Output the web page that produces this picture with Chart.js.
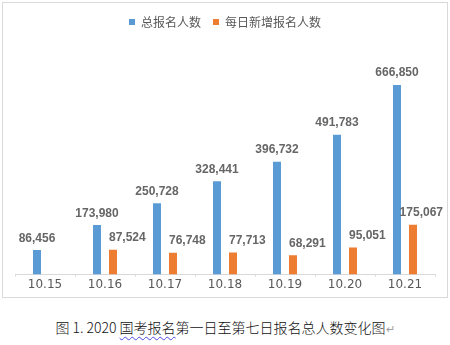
<!DOCTYPE html>
<html>
<head>
<meta charset="utf-8">
<script src="https://cdn.jsdelivr.net/npm/chart.js@4.4.0/dist/chart.umd.min.js"></script>
<style>
  html, body { margin: 0; padding: 0; background: #fff; width: 450px; height: 345px; overflow: hidden; }
  #frame { position: absolute; left: 2px; top: 2px; width: 444px; height: 294px; border: 1px solid #d9d9d9; }
  #wrap { position: absolute; left: 0; top: 0; width: 450px; height: 300px; }
  #caption { position: absolute; left: 0; top: 317px; width: 450px; text-align: center;
    font-family: "Noto Sans CJK SC", "Noto Sans", sans-serif; font-weight: 300; font-size: 14px; line-height: 20px; color: #111; }
  #caption .wavy { text-decoration: underline wavy #4a4ae0; text-decoration-thickness: 1px; text-underline-offset: 3px; }
  #caption .pm { color: #a0a0a0; font-size: 11px; font-family: "DejaVu Sans", sans-serif; }
</style>
</head>
<body>
<div id="frame"></div>
<div id="wrap"><canvas id="c" width="450" height="300"></canvas></div>
<div id="caption">图 1. 2020 <span class="wavy">国考报名</span>第一日至第七日报名总人数变化图<span class="pm">↵</span></div>
<script>
const categories = ['10.15', '10.16', '10.17', '10.18', '10.19', '10.20', '10.21'];
const totalApplicants = [86456, 173980, 250728, 328441, 396732, 491783, 666850];
const dailyNew = [null, 87524, 76748, 77713, 68291, 95051, 175067];
const seriesNames = ['总报名人数', '每日新增报名人数'];

const fmt = v => v.toLocaleString('en-US');

const labelPlugin = {
  id: 'barLabels',
  afterDatasetsDraw(chart) {
    const ctx = chart.ctx;
    ctx.save();
    ctx.font = 'bold 12px "Liberation Sans", Arial, sans-serif';
    ctx.fillStyle = '#666666';
    ctx.textBaseline = 'alphabetic';
    const maxRight = chart.width - 7;
    chart.data.datasets.forEach((ds, di) => {
      const meta = chart.getDatasetMeta(di);
      meta.data.forEach((bar, i) => {
        const v = ds.data[i];
        if (v === null || v === undefined) return;
        const txt = fmt(v);
        if (di === 0) {
          ctx.textAlign = 'center';
          ctx.fillText(txt, bar.x, bar.y - 8.5);
        } else {
          ctx.textAlign = 'left';
          const w = ctx.measureText(txt).width;
          const x = Math.min(bar.x - bar.width / 2, maxRight - w);
          ctx.fillText(txt, x, bar.y - 8.5);
        }
      });
    });
    ctx.restore();
  }
};

new Chart(document.getElementById('c'), {
  type: 'bar',
  data: {
    labels: categories,
    datasets: [
      { label: seriesNames[0], data: totalApplicants, backgroundColor: '#5B9BD5',
        categoryPercentage: 0.533, barPercentage: 0.5 },
      { label: seriesNames[1], data: dailyNew, backgroundColor: '#ED7D31',
        categoryPercentage: 0.533, barPercentage: 0.5 }
    ]
  },
  options: {
    responsive: false,
    animation: false,
    layout: { padding: { left: 15, right: 15, top: 4, bottom: 7 } },
    plugins: {
      legend: {
        display: true,
        position: 'top',
        labels: {
          boxWidth: 6, boxHeight: 6, padding: 12,
          color: '#595959',
          font: { family: '"Noto Sans CJK SC", sans-serif', size: 12 }
        }
      },
      tooltip: { enabled: false }
    },
    scales: {
      x: {
        grid: { display: true, drawOnChartArea: false, offset: true, color: '#d9d9d9', tickLength: 2 },
        border: { display: true, color: '#d9d9d9' },
        ticks: { color: '#595959', padding: 1, font: { family: '"DejaVu Sans", sans-serif', size: 12 } }
      },
      y: {
        display: false,
        min: 0,
        max: 832000
      }
    }
  },
  plugins: [labelPlugin]
});
</script>
</body>
</html>
